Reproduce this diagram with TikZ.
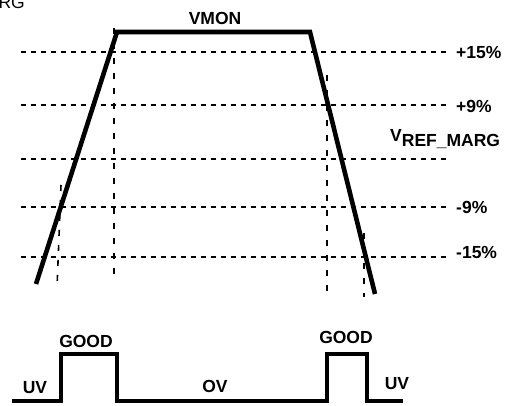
\documentclass[tikz,border=0pt]{standalone}
\usepackage{fontspec}
\setmainfont{Liberation Sans}
\usetikzlibrary{calc}
\usetikzlibrary{positioning}

\begin{document}
\begin{tikzpicture}[x=1pt, y=-1pt,
  font=\bfseries\fontsize{17.5}{20}\selectfont,
  trace/.style={line width=4.6pt, line join=miter},
  level/.style={line width=1.6pt, dash pattern=on 5pt off 5pt},
  mark line/.style={line width=1.6pt, dash pattern=on 6pt off 9pt},
  tag/.style={inner sep=0pt, anchor=base west},
  state/.style={inner sep=0pt, anchor=base}
  ]
  \useasboundingbox (0,0) rectangle (512,405);

  \node [inner sep=0pt, anchor=base east, font=\mdseries\fontsize{17.5}{20}\selectfont] (cut) at (25,8) {RG};

  % levels
  \foreach \y/\b/\t [count=\i] in {52/58/+15\%, 105/112/+9\%, 207/213/-9\%, 257/258/-15\%}{
    \coordinate (ls\i) at (21,\y);
    \coordinate (le\i) at (449,\y);
    \draw [level] (ls\i) -- (le\i);
    \node [tag] (lt\i) at (456,\b) {\t};
  }
  \coordinate (rs) at (21,159);
  \coordinate (re) at (449,159);
  \draw [level] (rs) -- (re);
  \node [tag] (vref) at (390,141) {V\raisebox{-5pt}{REF\_MARG}};

  % crossings
  \foreach \i/\xa/\ya/\xb/\yb in {1/114/28/114/279, 2/327/75/327/295, 3/61/185/57/288, 4/364/233/364/297}{
    \coordinate (ma\i) at (\xa,\ya);
    \coordinate (mb\i) at (\xb,\yb);
    \draw [mark line] (ma\i) -- (mb\i);
  }

  % monitored voltage
  \coordinate (v0) at (36,284);
  \coordinate (v1) at (117,32);
  \coordinate (v2) at (310,32);
  \coordinate (v3) at (375,294);
  \draw [trace] (v0) -- (v1) -- (v2) -- (v3);
  \node [state] (vmon) at (215,24) {VMON};

  % output state
  \coordinate (s0) at (12,401);
  \coordinate (s1) at (61,401);
  \coordinate (s2) at (61,354);
  \coordinate (s3) at (117,354);
  \coordinate (s4) at (117,401);
  \coordinate (s5) at (327,401);
  \coordinate (s6) at (327,354);
  \coordinate (s7) at (367,354);
  \coordinate (s8) at (367,401);
  \coordinate (s9) at (403,401);
  \draw [trace] (s0) -- (s1) -- (s2) -- (s3) -- (s4) -- (s5) -- (s6) -- (s7) -- (s8) -- (s9);

  \node [state] (uvl) at (35,393) {UV};
  \node [state] (gdl) at (86,347) {GOOD};
  \node [state] (ov) at (215,392) {OV};
  \node [state] (gdr) at (346,343) {GOOD};
  \node [state] (uvr) at (397,389) {UV};
\end{tikzpicture}
\end{document}
